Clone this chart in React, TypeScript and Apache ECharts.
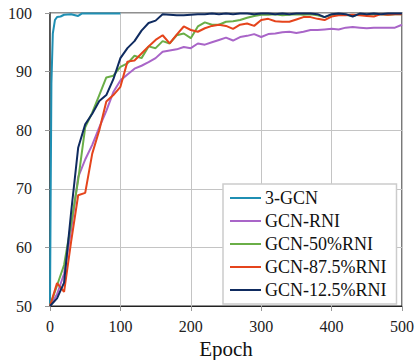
import React, { useEffect, useRef } from "react";
import * as echarts from "echarts";

const seriesNames = ["3-GCN", "GCN-RNI", "GCN-50%RNI", "GCN-87.5%RNI", "GCN-12.5%RNI"];
const colors = ["#1f8fb3", "#a965c8", "#6aae47", "#e5441c", "#0f2b60"];

const gcnEpochs = [0, 1, 2, 4, 7, 10, 15, 20, 30, 40, 45, 50, 60, 70, 80, 90, 100];
const gcnValues = [50, 70, 88, 96.5, 98.8, 99.3, 99.4, 99.7, 99.8, 99.5, 99.9, 99.9, 99.9, 99.9, 99.9, 99.9, 99.9];

const epochs = [
  0, 10, 20, 30, 40, 50, 60, 70, 80, 90, 100, 110, 120, 130, 140, 150, 160, 170, 180, 190, 200,
  210, 220, 230, 240, 250, 260, 270, 280, 290, 300, 310, 320, 330, 340, 350, 360, 370, 380, 390, 400,
  410, 420, 430, 440, 450, 460, 470, 480, 490, 500,
];

const rniValues = [
  50, 52, 55.5, 63, 72, 75, 77.5, 80.5, 83.3, 86.5, 88.5, 89.5, 90.5, 91, 91.6, 92.3, 93.4, 93.6, 93.8, 94.2, 94,
  94.8, 94.6, 95, 95.4, 95.8, 95.3, 95.9, 96.1, 96.4, 95.9, 96.4, 96.5, 96.7, 96.8, 96.6, 96.8, 97.1, 97.1, 97.2, 97.3,
  97.2, 97.5, 97.6, 97.5, 97.4, 97.5, 97.5, 97.5, 97.5, 98,
];

const rni50Values = [
  50, 53.5, 57, 64, 71.5, 80.5, 83, 86, 89, 89.3, 90.8, 91.4, 92.7, 92.3, 94.3, 94, 95.2, 94.8, 96.2, 96.5, 95.7,
  97.7, 98.4, 98, 98, 98.5, 98.6, 98.8, 99.2, 99.5, 99.7, 99.7, 99.8, 99.6, 99.7, 99.8, 99.7, 99.8, 99.6, 99.3, 99.7,
  99.8, 99.7, 99.5, 99.8, 99.7, 99.8, 99.8, 99.7, 99.8, 99.8,
];

const rni875Values = [
  50, 53.9, 52.4, 61, 68.9, 69.3, 76, 80, 84.9, 86, 87.4, 91.7, 91.9, 93.1, 94.3, 95.4, 96.2, 94.8, 96.3, 97.7, 97.1,
  96.8, 97.4, 97.8, 98, 97.8, 97.3, 98, 98.2, 97.8, 98.8, 99, 98.6, 98.5, 98.5, 98.9, 99.3, 99.3, 99, 98.8, 99.4,
  99.6, 99.6, 99.7, 99.6, 99.5, 99.4, 99.8, 99.7, 99.8, 99.8,
];

const rni125Values = [
  50, 51.3, 54, 66, 77, 81, 82.8, 85, 86, 88.7, 92.3, 94, 95.2, 97, 98.3, 98.7, 99.8, 99.7, 99.6, 99.6, 99.7,
  99.8, 99.8, 99.9, 99.8, 99.9, 99.8, 99.9, 99.9, 99.8, 99.9, 99.9, 99.8, 99.9, 99.8, 99.9, 99.9, 99.9, 99.8, 99.3, 99.8,
  99.9, 99.8, 99.4, 99.9, 99.8, 99.9, 99.8, 99.9, 99.9, 99.9,
];

const xTicks = [0, 100, 200, 300, 400, 500];
const yTicks = [50, 60, 70, 80, 90, 100];

const FONT = "serif";

function pair(xs: number[], ys: number[]) {
  return xs.map((x, i) => [x, ys[i]]);
}

export default function App() {
  const ref = useRef<HTMLDivElement>(null);
  useEffect(() => {
    if (!ref.current) return;
    const chart = echarts.init(ref.current, null, { renderer: "svg" });
    const allData = [
      pair(gcnEpochs, gcnValues),
      pair(epochs, rniValues),
      pair(epochs, rni50Values),
      pair(epochs, rni875Values),
      pair(epochs, rni125Values),
    ];
    chart.setOption({
      animation: false,
      textStyle: { fontFamily: FONT },
      grid: {
        left: 50,
        right: 16,
        top: 13,
        bottom: 54,
        outerBoundsMode: "none",
        containLabel: false,
        show: true,
        borderColor: "#222",
        borderWidth: 1.2,
        backgroundColor: "transparent",
      },
      legend: {
        orient: "vertical",
        left: 223,
        top: 184,
        data: seriesNames,
        itemWidth: 31,
        itemHeight: 2,
        itemGap: 5,
        icon: "rect",
        backgroundColor: "#fff",
        borderColor: "#cccccc",
        borderWidth: 1.5,
        borderRadius: 0,
        padding: [5, 10, 5, 7],
        textStyle: { fontFamily: FONT, fontSize: 18, color: "#111", lineHeight: 18, padding: [0, 0, 0, -1] },
      },
      xAxis: {
        type: "value",
        min: xTicks[0],
        max: xTicks[xTicks.length - 1],
        interval: 100,
        name: "Epoch",
        nameLocation: "middle",
        nameGap: 29,
        nameTextStyle: { fontFamily: FONT, fontSize: 21, color: "#111" },
        axisLine: { show: true, lineStyle: { color: "#222", width: 1.2 } },
        axisTick: { show: true, length: 5, lineStyle: { color: "#999" } },
        axisLabel: { fontFamily: FONT, fontSize: 16, color: "#222", margin: 12 },
        splitLine: { show: true, lineStyle: { color: "#c4c4c4", width: 1 } },
      },
      yAxis: {
        type: "value",
        min: yTicks[0],
        max: yTicks[yTicks.length - 1],
        interval: 10,
        axisLine: { show: true, lineStyle: { color: "#444", width: 1.5 } },
        axisTick: { show: true, length: 5, lineStyle: { color: "#999" } },
        axisLabel: { fontFamily: FONT, fontSize: 16, color: "#222", margin: 18 },
        splitLine: { show: true, lineStyle: { color: "#c4c4c4", width: 1 } },
      },
      series: seriesNames.map((name, i) => ({
        name,
        type: "line",
        data: allData[i],
        showSymbol: false,
        symbol: "none",
        clip: true,
        itemStyle: { color: colors[i] },
        lineStyle: { color: colors[i], width: 2 },
      })),
    });
    return () => chart.dispose();
  }, []);
  return <div ref={ref} style={{ width: 418, height: 360, position: "absolute", left: 0, top: 0 }} />;
}
